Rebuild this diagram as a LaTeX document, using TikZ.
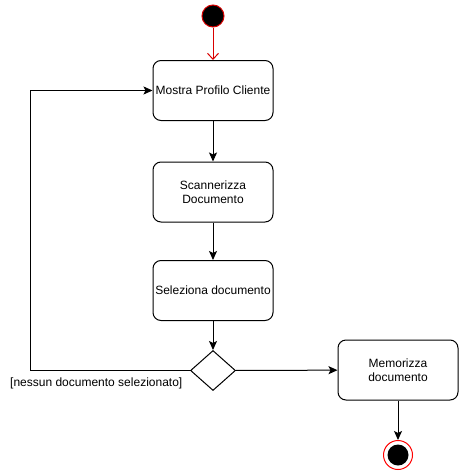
\documentclass[tikz,border=0pt]{standalone}
\usepackage{fontspec}
\setmainfont{Liberation Sans}
\usetikzlibrary{arrows.meta,shapes.geometric}
\begin{document}
\begin{tikzpicture}[x=1pt,y=-1pt,
  act/.style={draw,line width=1pt,rounded corners=8pt,minimum width=120pt,minimum height=60pt,align=center,font=\fontsize{12pt}{14pt}\selectfont,inner sep=1pt},
  flow/.style={line width=1pt,-{Stealth[length=9pt,width=8pt,inset=2pt]}},
  dec/.style={draw,line width=1pt,diamond,minimum width=45pt,minimum height=40pt,inner sep=0pt,aspect=1.1},
  lbl/.style={font=\fontsize{12pt}{14pt}\selectfont,inner sep=0pt}]
\useasboundingbox (0,0) rectangle (459,471);
\node[circle,draw=red!85!black,fill=black,line width=1pt,minimum size=22pt,inner sep=0pt] (start) at (213,16) {};
\node[act] (a1) at (213,90.5) {Mostra Profilo Cliente};
\node[act] (a2) at (213,192) {Scannerizza\\Documento};
\node[act] (a3) at (213,290.5) {Seleziona documento};
\node[dec] (d) at (213,370.5) {};
\node[act] (a4) at (398,370) {Memorizza\\documento};
\node[circle,draw=red,line width=1pt,minimum size=29pt,inner sep=0pt] (end) at (398,455) {};
\node[circle,fill=black,minimum size=21pt,inner sep=0pt] (endin) at (end.center) {};
\coordinate (c1) at (30,370.5);
\coordinate (c2) at (30,90.5);
\draw[line width=1pt,red!85!black,-{Straight Barb[length=6pt,width=11pt]}] (start) -- (a1);
\draw[flow] (a1) -- (a2);
\draw[flow] (a2) -- (a3);
\draw[flow] (a3) -- (d);
\draw[flow] (d) -- (a4);
\draw[flow] (a4) -- (end);
\draw[flow] (d.west) -- (c1) -- (c2) -- (a1.west);
\node[lbl,anchor=west] (g) at (10,383) {[nessun documento selezionato]};
\end{tikzpicture}
\end{document}
